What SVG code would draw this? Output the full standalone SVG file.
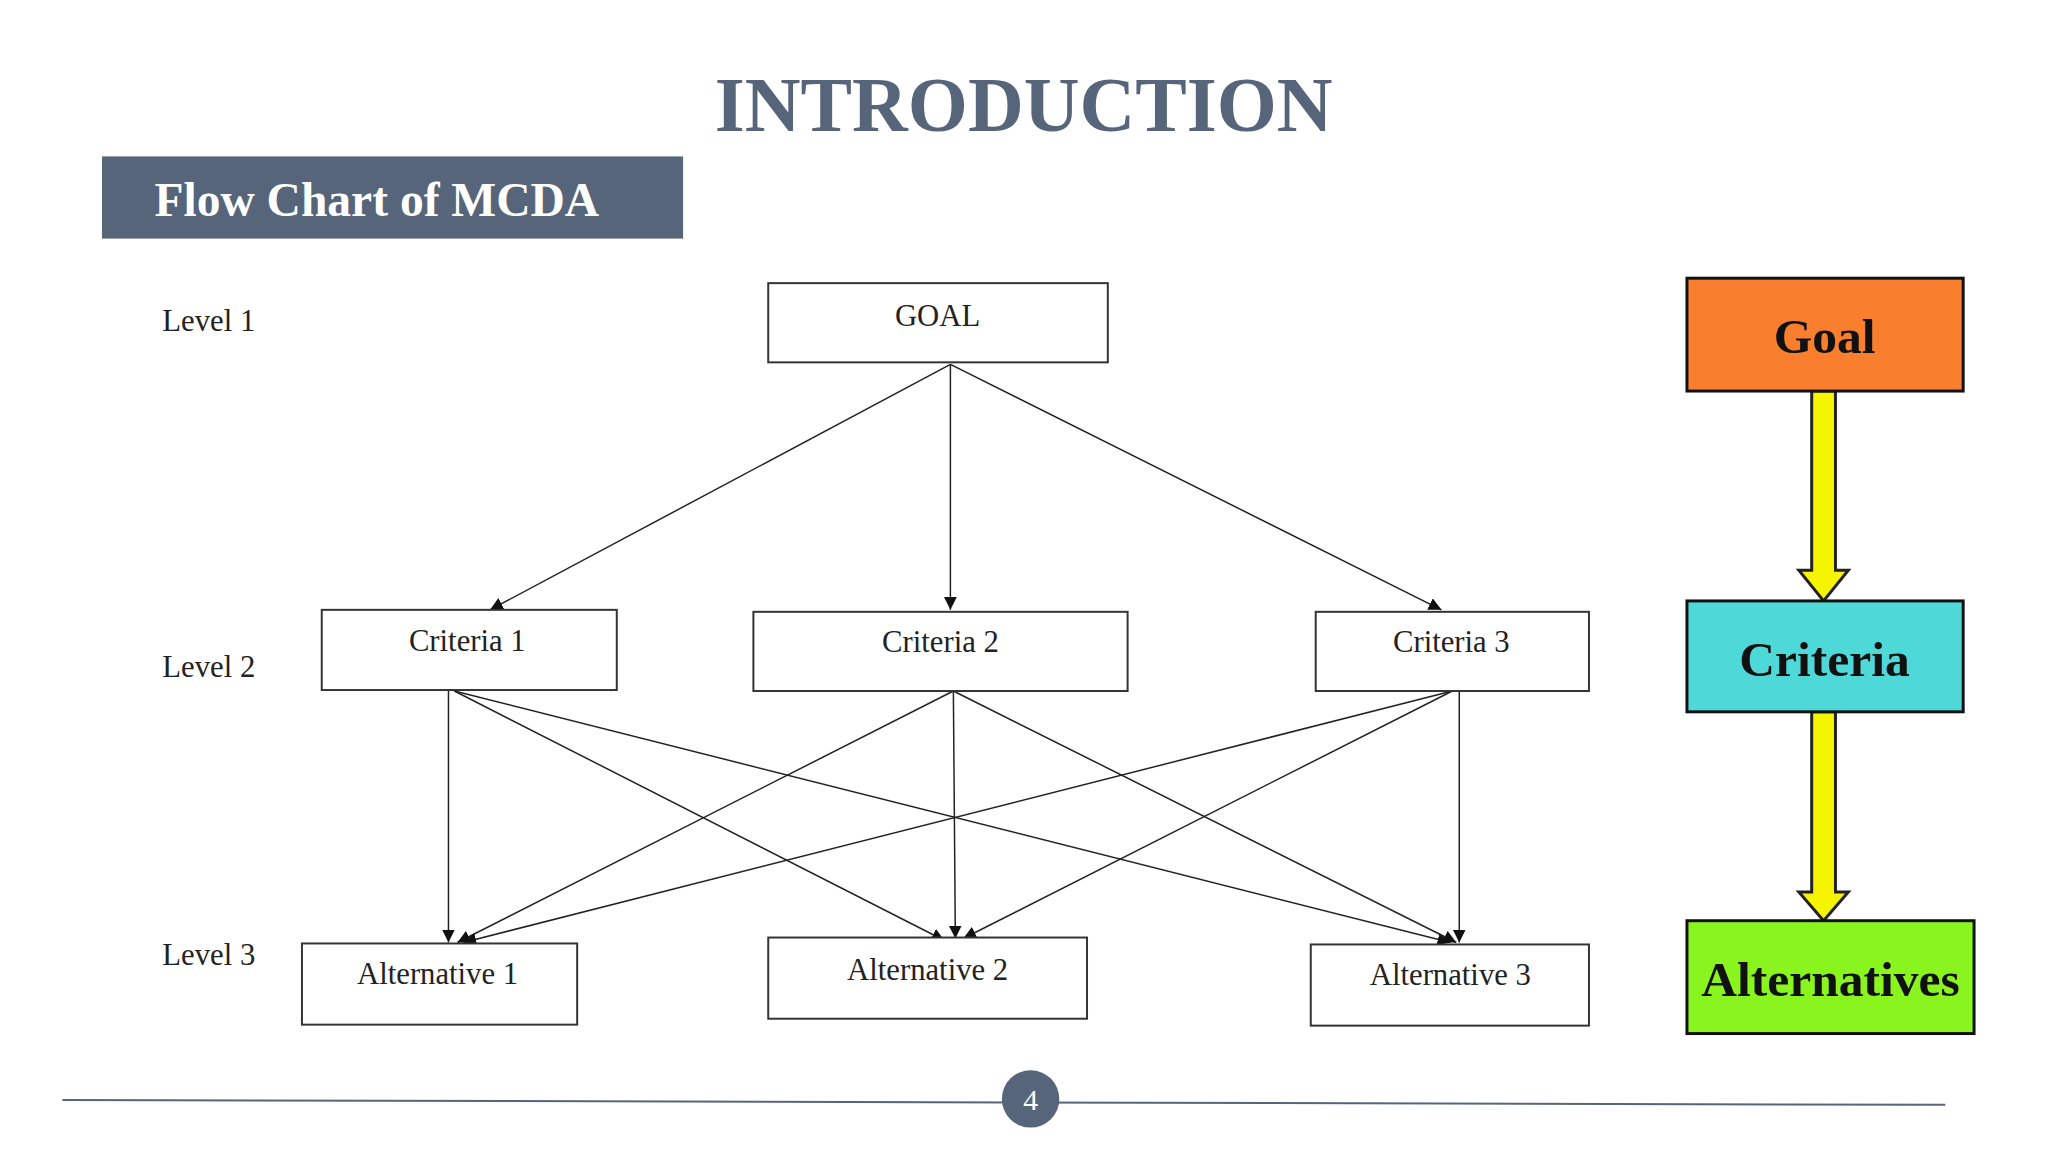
<svg xmlns="http://www.w3.org/2000/svg" width="2048" height="1152" viewBox="0 0 2048 1152">
<style>
.box{fill:#fff;stroke:#333;stroke-width:2}
.t{font-family:"Liberation Serif",serif;font-size:31px;fill:#222;text-anchor:middle}
.lv{font-family:"Liberation Serif",serif;font-size:31px;fill:#222}
.c{stroke:#222;stroke-width:1.5;fill:none;marker-end:url(#ah)}
.cb{stroke:#111;stroke-width:3}
.bt{font-family:"Liberation Serif",serif;font-weight:bold;font-size:50px;fill:#111;text-anchor:middle}
.ya{fill:#f5f500;stroke:#222;stroke-width:3}
</style>
<defs>
<marker id="ah" viewBox="0 0 10 10" refX="10" refY="5" markerWidth="13" markerHeight="13" markerUnits="userSpaceOnUse" orient="auto"><path d="M0,0L10,5L0,10z" fill="#111"/></marker>
</defs>
<rect width="2048" height="1152" fill="#fff"/>
<g transform="scale(0.99)">
<text x="1034" y="132" font-family="Liberation Serif,serif" font-weight="bold" font-size="78" fill="#56657a" text-anchor="middle">INTRODUCTION</text>
<g id="banner"><rect x="103" y="158" width="587" height="83" fill="#56657a"/>
<text x="156" y="218" font-family="Liberation Serif,serif" font-weight="bold" font-size="48" fill="#fff">Flow Chart of MCDA</text></g>
<g id="levels"><text class="lv" x="164" y="334">Level 1</text><text class="lv" x="164" y="684">Level 2</text><text class="lv" x="164" y="975">Level 3</text></g>
<g id="connectors">
<line class="c" x1="960" y1="368" x2="495" y2="616"/>
<line class="c" x1="960" y1="368" x2="960" y2="616"/>
<line class="c" x1="960" y1="368" x2="1456" y2="616"/>
<line class="c" x1="453" y1="698" x2="453" y2="952"/>
<line class="c" x1="459" y1="698" x2="954" y2="950"/>
<line class="c" x1="459" y1="698" x2="1465" y2="952"/>
<line class="c" x1="963" y1="698" x2="462" y2="952"/>
<line class="c" x1="963" y1="698" x2="965" y2="948"/>
<line class="c" x1="963" y1="698" x2="1471" y2="952"/>
<line class="c" x1="1467" y1="698" x2="468" y2="952"/>
<line class="c" x1="1467" y1="698" x2="973" y2="948"/>
<line class="c" x1="1474" y1="698" x2="1474" y2="952"/>
<polygon class="ya" points="1830,395 1854,395 1854,576 1867,576 1842,607 1817,576 1830,576"/>
<polygon class="ya" points="1830,719 1854,719 1854,901 1867,901 1842,930 1817,901 1830,901"/>
</g>
<g id="goal"><rect class="box" x="776" y="286" width="343" height="80"/><text class="t" x="947" y="329">GOAL</text></g>
<g id="crit1"><rect class="box" x="325" y="616" width="298" height="81"/><text class="t" x="472" y="658">Criteria 1</text></g>
<g id="crit2"><rect class="box" x="761" y="618" width="378" height="80"/><text class="t" x="950" y="659">Criteria 2</text></g>
<g id="crit3"><rect class="box" x="1329" y="618" width="276" height="80"/><text class="t" x="1466" y="659">Criteria 3</text></g>
<g id="alt1"><rect class="box" x="305" y="953" width="278" height="82"/><text class="t" x="442" y="994">Alternative 1</text></g>
<g id="alt2"><rect class="box" x="776" y="947" width="322" height="82"/><text class="t" x="937" y="990">Alternative 2</text></g>
<g id="alt3"><rect class="box" x="1324" y="954" width="281" height="82"/><text class="t" x="1465" y="995">Alternative 3</text></g>
<g id="rgoal"><rect class="cb" x="1704" y="281" width="279" height="114" fill="#f97f2e"/><text class="bt" x="1843" y="357">Goal</text></g>
<g id="rcrit"><rect class="cb" x="1704" y="607" width="279" height="112" fill="#4fd8d8"/><text class="bt" x="1843" y="683">Criteria</text></g>
<g id="ralt"><rect class="cb" x="1704" y="930" width="290" height="114" fill="#8af51e"/><text class="bt" x="1849" y="1006">Alternatives</text></g>
<g id="footer"><line x1="63" y1="1111" x2="1965" y2="1116" stroke="#56657a" stroke-width="2"/>
<circle cx="1041" cy="1110" r="29" fill="#56657a"/><text x="1041" y="1121" font-family="Liberation Serif,serif" font-size="30" fill="#fff" text-anchor="middle">4</text></g>
</g>
</svg>
